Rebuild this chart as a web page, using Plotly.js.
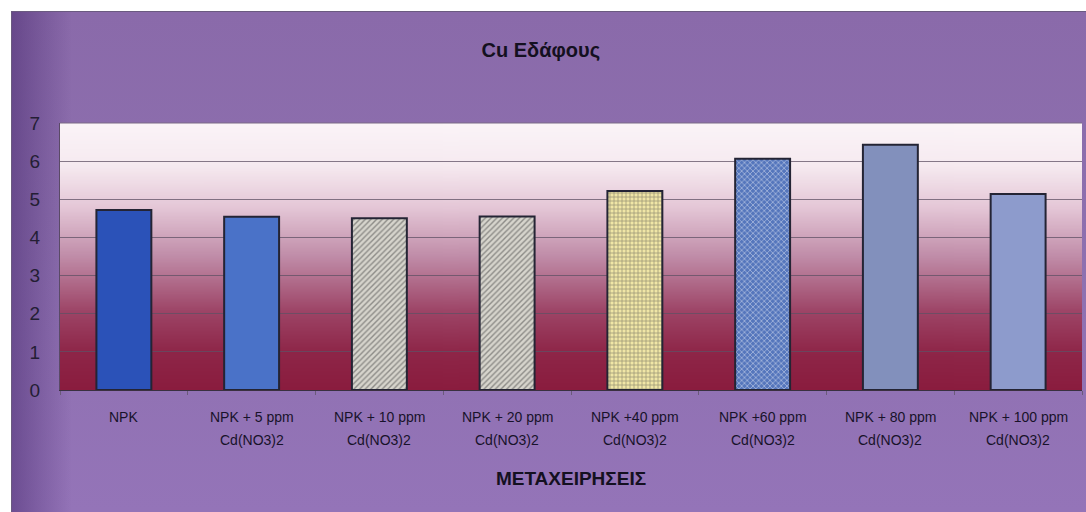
<!DOCTYPE html>
<html>
<head>
<meta charset="utf-8">
<script src="https://cdn.plot.ly/plotly-3.0.1.min.js"></script>
<style>
  html, body { margin: 0; padding: 0; background: #ffffff; }
  #wrap { position: relative; width: 1086px; height: 512px; overflow: hidden; background: #ffffff; }
  #panel {
    position: absolute; left: 11px; top: 11px; right: 0; bottom: 0;
    background:
      linear-gradient(90deg, rgba(60,30,100,0.45) 0px, rgba(60,30,100,0.22) 30px, rgba(60,30,100,0) 60px),
      linear-gradient(180deg, #8a6aaa 0%, #8d6fae 40%, #9474b8 100%);
    border-top: 1px solid #6a5a80;
    border-left: 1px solid #6a5a80;
  }
  #chart { position: absolute; left: 0; top: 0; width: 1086px; height: 512px; }
</style>
</head>
<body>
<div id="wrap">
  <div id="panel"></div>
  <div id="chart"></div>
</div>
<script>
// Soil copper per treatment
const treatments = ['NPK', 'NPK + 5 ppm', 'NPK + 10 ppm', 'NPK + 20 ppm', 'NPK +40 ppm', 'NPK +60 ppm', 'NPK + 80 ppm', 'NPK + 100 ppm'];
const saltLabel = ['', 'Cd(NO3)2', 'Cd(NO3)2', 'Cd(NO3)2', 'Cd(NO3)2', 'Cd(NO3)2', 'Cd(NO3)2', 'Cd(NO3)2'];
const cuValues = [4.72, 4.54, 4.50, 4.55, 5.22, 6.06, 6.43, 5.14];
const yTicks = [0, 1, 2, 3, 4, 5, 6, 7];

// Per-bar fills: solid, hatched, checked
const fillColors = ['#2b52b8', '#4a72c8', '#d6d4cc', '#d6d4cc', '#f0e6a6', '#5576bc', '#8290bc', '#8d9bcc'];
const patShapes  = ['', '', '/', '/', '+', 'x', '', ''];
const patFg      = ['#000', '#000', '#7c7c88', '#7c7c88', '#3c4c8c', '#c4d2ee', '#000', '#000'];

// Plot-area backdrop: pale at the top fading to deep crimson at the bottom
function backdrop() {
  const c = document.createElement('canvas');
  c.width = 4; c.height = 400;
  const g = c.getContext('2d');
  const grad = g.createLinearGradient(0, 0, 0, 400);
  grad.addColorStop(0.00, '#fbf4f8');
  grad.addColorStop(0.16, '#f6eaf0');
  grad.addColorStop(0.32, '#e4c6d6');
  grad.addColorStop(0.50, '#c08ca8');
  grad.addColorStop(0.70, '#9e4668');
  grad.addColorStop(0.86, '#8e2648');
  grad.addColorStop(1.00, '#8a1c3e');
  g.fillStyle = grad;
  g.fillRect(0, 0, 4, 400);
  return c.toDataURL('image/png');
}

const trace = {
  type: 'bar',
  x: treatments,
  y: cuValues,
  width: 0.43,
  marker: {
    color: fillColors,
    line: { color: '#242434', width: 2 },
    pattern: {
      shape: patShapes,
      fgcolor: patFg,
      size: 4,
      solidity: 0.35,
      fillmode: 'overlay'
    }
  },
  hoverinfo: 'x+y'
};

// Two-line category labels under each bar
const labelFont = { family: 'Liberation Sans, Arial, sans-serif', size: 14, color: '#18122a' };
const annotations = [];
treatments.forEach((t, i) => {
  annotations.push({
    xref: 'x', yref: 'paper', x: t, y: 0, yanchor: 'middle',
    yshift: -27, text: t, showarrow: false, font: labelFont
  });
  if (saltLabel[i]) {
    annotations.push({
      xref: 'x', yref: 'paper', x: t, y: 0, yanchor: 'middle',
      yshift: -50, text: saltLabel[i], showarrow: false, font: labelFont
    });
  }
});

const layout = {
  width: 1086,
  height: 512,
  margin: { l: 60, r: 4, t: 123, b: 122 },
  paper_bgcolor: 'rgba(0,0,0,0)',
  plot_bgcolor: 'rgba(0,0,0,0)',
  showlegend: false,
  bargap: 0.57,
  font: { family: 'Liberation Sans, Arial, sans-serif', color: '#1e1a2a' },
  title: {
    text: '<b>Cu Εδάφους</b>',
    x: 0.498, xanchor: 'center',
    y: 0.902, yanchor: 'middle',
    font: { size: 20, color: '#141020', family: 'Liberation Sans, Arial, sans-serif' }
  },
  xaxis: {
    type: 'category',
    showticklabels: false,
    ticks: 'outside', ticklen: 4, tickcolor: '#6a5a7a',
    tickson: 'boundaries',
    showline: true, linecolor: '#3a3040', linewidth: 1,
    showgrid: false,
    title: {
      text: '<b>ΜΕΤΑΧΕΙΡΗΣΕΙΣ</b>',
      font: { size: 19, color: '#141020' },
      standoff: 81
    }
  },
  yaxis: {
    range: [0, 7],
    tickvals: yTicks,
    ticktext: yTicks.map(String),
    tickfont: { size: 19, color: '#241e34' },
    ticks: '', ticklabelstandoff: 15,
    showline: true, linecolor: '#5a4a66', linewidth: 1,
    showgrid: true, gridcolor: 'rgba(95,80,100,0.75)', gridwidth: 1,
    zeroline: false,
    fixedrange: true
  },
  annotations: annotations,
  images: [{
    source: backdrop(),
    xref: 'paper', yref: 'paper',
    x: 0, y: 1, sizex: 1, sizey: 1,
    xanchor: 'left', yanchor: 'top',
    sizing: 'stretch',
    layer: 'below'
  }],
  shapes: [{
    type: 'line', xref: 'paper', yref: 'paper',
    x0: 0, x1: 1, y0: 1, y1: 1,
    line: { color: '#7a6a86', width: 1 }
  }]
};

Plotly.newPlot('chart', [trace], layout, { displayModeBar: false, staticPlot: true });
</script>
</body>
</html>
